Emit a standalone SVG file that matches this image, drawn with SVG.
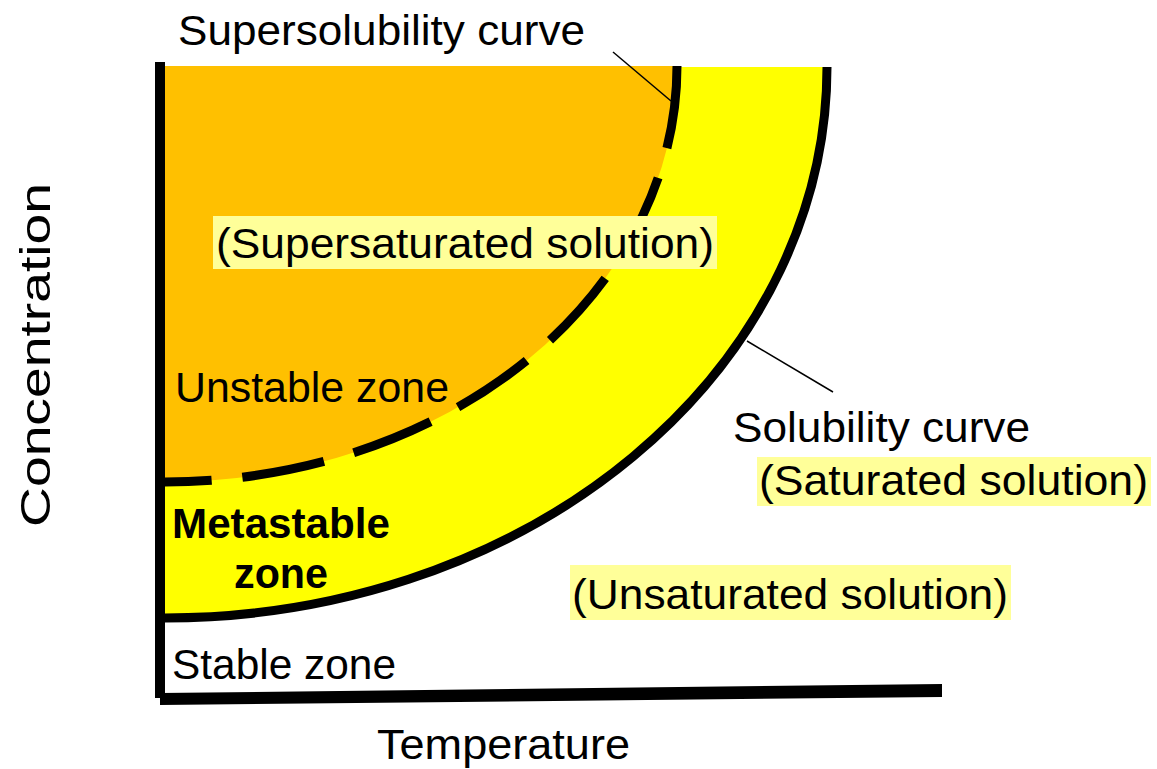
<svg xmlns="http://www.w3.org/2000/svg" width="1157" height="769" viewBox="0 0 1157 769">
<style>
.t{font-family:"Liberation Sans",Arial,sans-serif;font-size:42px;fill:#000}
.b{font-weight:bold}
.hl{fill:#FFFF99}
.curve{fill:none;stroke:#000;stroke-width:9}
.lead{fill:none;stroke:#000;stroke-width:1.5}
</style>
<rect width="1157" height="769" fill="#fff"/>
<g id="zones">
<path id="metastable-fill" d="M165 67 H827 A662 551 0 0 1 165 618 Z" fill="#FFFF00"/>
<path id="unstable-fill" d="M165 66 H677 A512 416 0 0 1 165 482 Z" fill="#FFC000"/>
</g>
<g id="connectors">
<path id="solubility-curve" class="curve" d="M827 67 A662 551 0 0 1 165 618"/>
<path id="supersolubility-curve" class="curve" stroke-width="10" stroke-dasharray="83 31" d="M677 66 A512 416 0 0 1 165 482"/>
<line class="lead" x1="613" y1="52" x2="671" y2="101"/>
<line class="lead" x1="747" y1="341" x2="833" y2="392"/>
<rect x="155" y="62" width="10" height="636" fill="#000"/>
<polygon points="160,693 942,684 942,697 160,705" fill="#000"/>
</g>
<g id="label-supersolubility"><text class="t" x="178" y="45" textLength="407" lengthAdjust="spacingAndGlyphs">Supersolubility curve</text></g>
<g id="label-supersaturated">
<rect class="hl" x="213" y="216" width="504" height="53"/>
<text class="t" x="216" y="258" textLength="498" lengthAdjust="spacingAndGlyphs">(Supersaturated solution)</text>
</g>
<g id="label-unstable"><text class="t" x="175" y="402" textLength="274" lengthAdjust="spacingAndGlyphs">Unstable zone</text></g>
<g id="label-metastable">
<text class="t b" x="172" y="538" textLength="218" lengthAdjust="spacingAndGlyphs">Metastable</text>
<text class="t b" x="234" y="588" textLength="94" lengthAdjust="spacingAndGlyphs">zone</text>
</g>
<g id="label-stable"><text class="t" x="172" y="679" textLength="224" lengthAdjust="spacingAndGlyphs">Stable zone</text></g>
<g id="label-solubility">
<text class="t" x="733" y="442" textLength="297" lengthAdjust="spacingAndGlyphs">Solubility curve</text>
</g>
<g id="label-saturated">
<rect class="hl" x="757" y="457" width="394" height="49"/>
<text class="t" x="759" y="495" textLength="389" lengthAdjust="spacingAndGlyphs">(Saturated solution)</text>
</g>
<g id="label-unsaturated">
<rect class="hl" x="570" y="565" width="441" height="55"/>
<text class="t" x="572" y="609" textLength="436" lengthAdjust="spacingAndGlyphs">(Unsaturated solution)</text>
</g>
<g id="axis-x-label"><text class="t" x="377" y="759" textLength="253" lengthAdjust="spacingAndGlyphs">Temperature</text></g>
<g id="axis-y-label"><text class="t" transform="translate(50 355) rotate(-90)" x="0" y="0" text-anchor="middle" font-size="50" textLength="344" lengthAdjust="spacingAndGlyphs">Concentration</text></g>
</svg>
